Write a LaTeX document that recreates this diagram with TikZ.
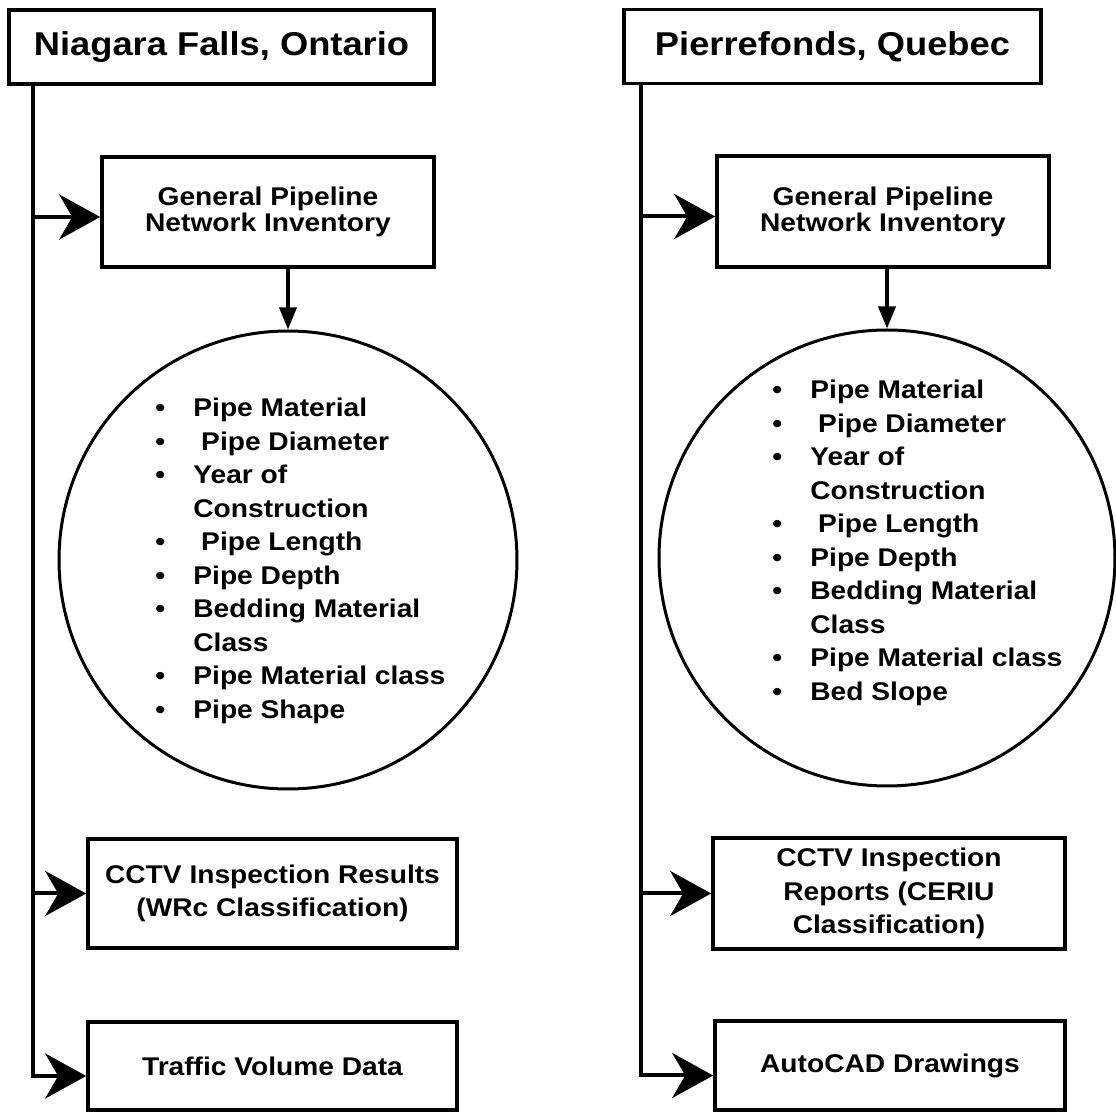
\documentclass[tikz,border=0pt]{standalone}
\usepackage{fontspec}
\setmainfont{Liberation Sans}[FakeStretch=1.1]
\usetikzlibrary{arrows.meta}
\newcommand{\listentry}[1]{\makebox[19pt][l]{\textbullet}#1}
\newcommand{\listcont}[1]{\hspace*{19pt}#1}
\begin{document}
\begin{tikzpicture}[x=0.5pt,y=-0.5pt,
  box/.style={draw, line width=1.8pt, rectangle, inner sep=0pt, align=center,
    font=\bfseries\fontsize{12.8}{13}\selectfont},
  titlebox/.style={box, font=\bfseries\fontsize{16.5}{18}\selectfont},
  tallbox/.style={box, font=\bfseries\fontsize{12.8}{16.75}\selectfont},
  listcircle/.style={draw, circle, line width=1.5pt, inner sep=0pt},
  listtext/.style={anchor=base west, align=left, inner sep=0pt,
    font=\bfseries\fontsize{12.8}{16.75}\selectfont},
  branch/.style={line width=2pt, -{Stealth[length=20.5pt,width=22.5pt,inset=6.5pt]}},
  down/.style={line width=1.8pt, -{Triangle[length=11pt,width=8.5pt]}}
]
\useasboundingbox (0,0) rectangle (1116,1112);

% ---------------- Niagara Falls column ----------------
\node[titlebox, minimum width=212.5pt, minimum height=37pt] (tL) at (221.5,47) {Niagara Falls, Ontario};
\node[box, minimum width=166pt, minimum height=55pt] (gpL) at (268,212) {General Pipeline\\Network Inventory};
\node[listcircle, minimum size=229pt] (cL) at (288,560) {};
% the list node's base is the baseline of its last line
\node[listtext] (lL) at (155,718.5) {%
  \listentry{Pipe Material}\\
  \listentry{\ Pipe Diameter}\\
  \listentry{Year of}\\
  \listcont{Construction}\\
  \listentry{\ Pipe Length}\\
  \listentry{Pipe Depth}\\
  \listentry{Bedding Material}\\
  \listcont{Class}\\
  \listentry{Pipe Material class}\\
  \listentry{Pipe Shape}};
\node[tallbox, minimum width=184.5pt, minimum height=54.5pt] (ccL) at (272.5,893.5) {CCTV Inspection Results\\(WRc Classification)};
\node[box, minimum width=184.5pt, minimum height=44pt] (trL) at (272.5,1066) {Traffic Volume Data};

\coordinate (kL) at (33,84);
\coordinate (aL1) at ([yshift=-2.5pt]gpL.west);
\coordinate (aL3) at ([yshift=-5pt]trL.west);
\draw[branch] (kL) |- (aL3);
\draw[branch] (kL |- aL1) -- (aL1);
\draw[branch] (kL |- ccL.west) -- (ccL.west);
\draw[down] (cL.north |- gpL.south) -- (cL.north);

% ---------------- Pierrefonds column ----------------
\node[titlebox, minimum width=208.5pt, minimum height=37pt] (tR) at (832.5,46.5) {Pierrefonds, Quebec};
\node[box, minimum width=166pt, minimum height=55.5pt] (gpR) at (883,211.5) {General Pipeline\\Network Inventory};
\node[listcircle, minimum size=228pt] (cR) at (887,558) {};
\node[listtext] (lR) at (772,700.5) {%
  \listentry{Pipe Material}\\
  \listentry{\ Pipe Diameter}\\
  \listentry{Year of}\\
  \listcont{Construction}\\
  \listentry{\ Pipe Length}\\
  \listentry{Pipe Depth}\\
  \listentry{Bedding Material}\\
  \listcont{Class}\\
  \listentry{Pipe Material class}\\
  \listentry{Bed Slope}};
\node[tallbox, minimum width=176pt, minimum height=55.5pt] (ccR) at (889,893.5) {CCTV Inspection\\Reports (CERIU\\Classification)};
\node[box, minimum width=175pt, minimum height=44.5pt] (acR) at (890,1065.5) {AutoCAD Drawings};

\coordinate (kR) at (641,83);
\coordinate (aR1) at ([yshift=-2.5pt]gpR.west);
\coordinate (aR3) at ([yshift=-5pt]acR.west);
\draw[branch] (kR) |- (aR3);
\draw[branch] (kR |- aR1) -- (aR1);
\draw[branch] (kR |- ccR.west) -- (ccR.west);
\draw[down] (cR.north |- gpR.south) -- (cR.north);
\end{tikzpicture}
\end{document}
